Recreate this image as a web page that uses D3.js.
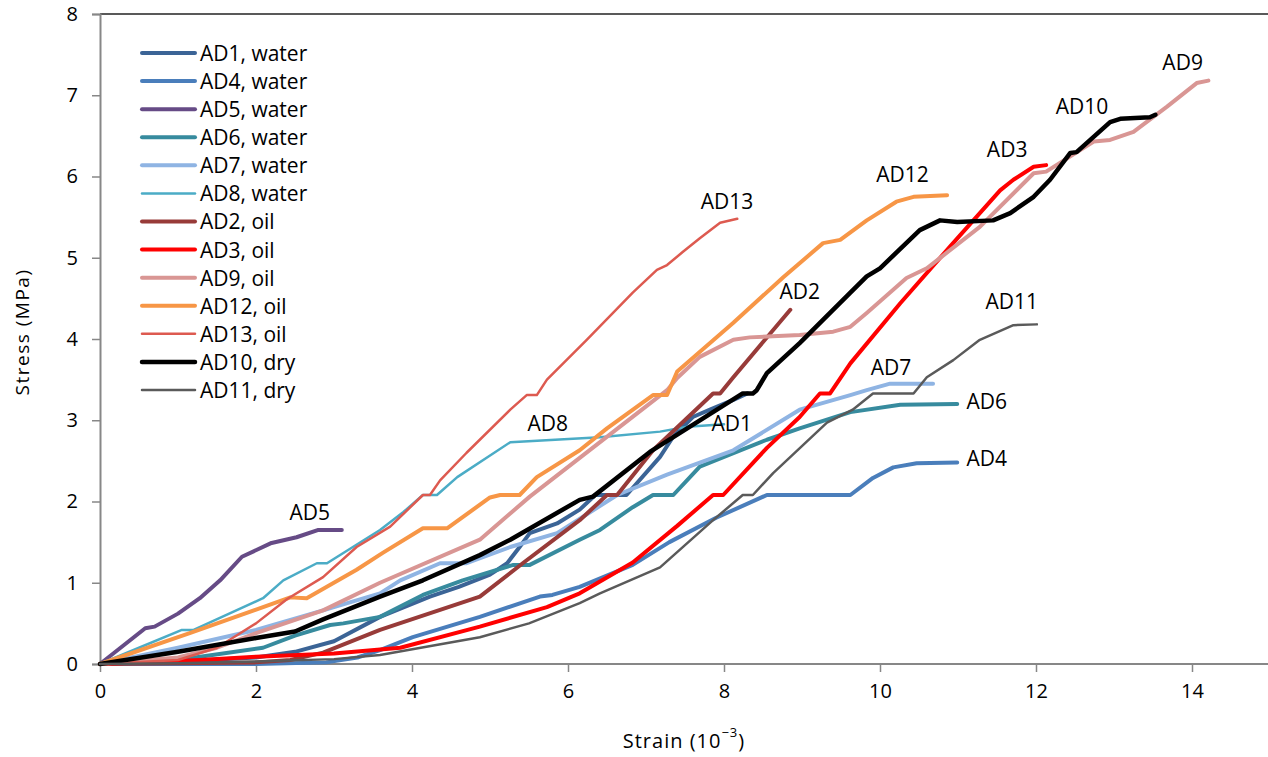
<!DOCTYPE html>
<html>
<head>
<meta charset="utf-8">
<script src="https://cdn.jsdelivr.net/npm/d3@7"></script>
<style>
  body { margin: 0; background: #fff; }
  svg text { font-family: "Open Sans", "Liberation Sans", sans-serif; fill: #000; }
</style>
</head>
<body>
<svg id="chart" width="1268" height="757"></svg>
<script>
// stress-strain readings, [strain (10^-3), stress (MPa)]
var ad1 = [[0,0],[1,0.03],[2,0.08],[2.5,0.15],[3,0.28],[3.59,0.58],[4.23,0.83],[4.6,0.95],[5.0,1.1],[5.22,1.24],[5.38,1.44],[5.51,1.61],[5.86,1.73],[6.15,1.9],[6.35,2.08],[6.75,2.08],[7.18,2.55],[7.35,2.8],[7.6,3.04],[7.82,3.13],[8.12,3.25],[8.3,3.33]]
var ad4 = [[0,0],[1,0],[2,0],[2.9,0.02],[3.3,0.08],[3.59,0.17],[4.01,0.33],[4.87,0.58],[5.64,0.83],[5.8,0.85],[6.15,0.95],[6.83,1.22],[7.3,1.5],[7.9,1.8],[8.55,2.08],[9.62,2.08],[9.91,2.29],[10.17,2.42],[10.47,2.47],[10.99,2.48]]
var ad5 = [[0,0],[0.58,0.44],[0.7,0.46],[1.0,0.62],[1.28,0.81],[1.54,1.03],[1.82,1.32],[2.2,1.49],[2.52,1.56],[2.8,1.65],[3.1,1.65]]
var ad6 = [[0,0],[1.15,0.07],[2.09,0.2],[2.5,0.35],[2.95,0.48],[3.12,0.5],[3.59,0.58],[4.14,0.85],[4.65,1.03],[5.3,1.22],[5.51,1.22],[6.15,1.53],[6.41,1.65],[6.83,1.93],[7.09,2.08],[7.35,2.08],[7.69,2.43],[8.55,2.76],[8.97,2.9],[9.62,3.1],[10.26,3.19],[10.99,3.2]]
var ad7 = [[0,0],[1,0.2],[2,0.42],[2.86,0.66],[3.59,0.87],[3.85,1.03],[4.36,1.24],[4.7,1.24],[5.26,1.44],[5.86,1.61],[6.63,2.08],[7.27,2.33],[8.12,2.63],[8.97,3.13],[9.62,3.31],[9.83,3.37],[10.13,3.45],[10.68,3.45]]
var ad8 = [[0,0],[0.5,0.2],[1.05,0.42],[1.2,0.42],[2.09,0.81],[2.35,1.03],[2.78,1.24],[2.91,1.24],[3.59,1.65],[3.89,1.87],[4.14,2.08],[4.32,2.08],[4.58,2.3],[5.26,2.73],[6.41,2.79],[7.18,2.86],[7.53,2.92],[8.0,2.95]]
var ad2 = [[0,0],[1,0.01],[2,0.02],[2.44,0.05],[2.86,0.14],[3.59,0.42],[4.87,0.83],[5.42,1.24],[6.15,1.77],[6.5,2.08],[6.63,2.08],[7.09,2.63],[7.86,3.33],[7.95,3.33],[8.12,3.53],[8.85,4.36]]
var ad3 = [[0,0],[1.28,0.05],[2,0.09],[3,0.13],[3.85,0.2],[4.87,0.46],[5.73,0.7],[6.15,0.87],[6.83,1.25],[7.4,1.7],[7.86,2.08],[7.99,2.08],[8.55,2.66],[8.97,3.04],[9.23,3.33],[9.36,3.33],[9.62,3.7],[10.26,4.44],[10.9,5.14],[11.54,5.83],[11.71,5.96],[11.97,6.12],[12.13,6.14]]
var ad9 = [[0,0],[1,0.08],[1.5,0.2],[2,0.38],[2.86,0.66],[3.59,1.0],[4.87,1.53],[5.51,2.06],[7.27,3.37],[7.4,3.52],[7.69,3.78],[8.12,3.99],[8.33,4.02],[8.97,4.05],[9.4,4.09],[9.62,4.15],[9.83,4.32],[10.34,4.75],[10.6,4.87],[11.28,5.38],[11.97,6.04],[12.13,6.06],[12.74,6.43],[12.95,6.45],[13.25,6.55],[13.68,6.86],[14.06,7.15],[14.21,7.18]]
var ad12 = [[0,0],[1.15,0.38],[2.44,0.82],[2.65,0.81],[3.29,1.16],[3.63,1.37],[4.14,1.67],[4.45,1.67],[5.0,2.05],[5.13,2.08],[5.38,2.08],[5.6,2.3],[6.15,2.63],[6.5,2.9],[7.09,3.31],[7.27,3.31],[7.4,3.6],[8.12,4.2],[8.76,4.76],[9.27,5.18],[9.49,5.22],[9.83,5.46],[10.21,5.69],[10.43,5.75],[10.86,5.77]]
var ad13 = [[0,0],[1,0.05],[1.5,0.2],[2,0.5],[2.4,0.8],[2.86,1.07],[3.29,1.44],[3.72,1.69],[4.14,2.08],[4.23,2.08],[4.36,2.26],[4.7,2.6],[5.26,3.13],[5.47,3.31],[5.6,3.31],[5.73,3.5],[6.24,3.99],[6.83,4.57],[7.14,4.85],[7.27,4.91],[7.47,5.07],[7.69,5.24],[7.95,5.43],[8.17,5.48]]
var ad10 = [[0,0],[1,0.15],[2,0.32],[2.5,0.4],[2.86,0.55],[3.59,0.83],[4.14,1.03],[4.87,1.34],[5.26,1.53],[5.55,1.69],[6.15,2.02],[6.32,2.06],[7.05,2.61],[8.24,3.33],[8.37,3.33],[8.42,3.37],[8.55,3.58],[8.97,3.95],[9.62,4.57],[9.83,4.77],[10.0,4.87],[10.51,5.34],[10.77,5.46],[10.99,5.44],[11.45,5.46],[11.67,5.55],[11.97,5.75],[12.18,5.96],[12.44,6.29],[12.52,6.3],[12.95,6.67],[13.08,6.71],[13.46,6.73],[13.53,6.76]]
var ad11 = [[0,0],[1,0.01],[2,0.03],[3,0.06],[3.59,0.11],[4.87,0.33],[5.5,0.5],[6.15,0.75],[6.41,0.87],[7.18,1.19],[7.86,1.77],[8.24,2.08],[8.37,2.08],[8.63,2.35],[9.32,2.97],[9.65,3.13],[9.91,3.33],[10.43,3.33],[10.6,3.53],[10.94,3.74],[11.28,3.99],[11.71,4.17],[12.01,4.18]]

var names = ['AD1, water', 'AD4, water', 'AD5, water', 'AD6, water', 'AD7, water', 'AD8, water',
  'AD2, oil', 'AD3, oil', 'AD9, oil', 'AD12, oil', 'AD13, oil', 'AD10, dry', 'AD11, dry']
var tags = ['AD1', 'AD4', 'AD5', 'AD6', 'AD7', 'AD8', 'AD2', 'AD3', 'AD9', 'AD12', 'AD13', 'AD10', 'AD11']
var values = [ad1, ad4, ad5, ad6, ad7, ad8, ad2, ad3, ad9, ad12, ad13, ad10, ad11]
// where each tag sits, in data units
var tagAt = [[8.1,2.97],[11.37,2.54],[2.69,1.87],[11.37,3.24],[10.14,3.66],[5.74,2.97],
  [8.97,4.59],[11.63,6.34],[13.88,7.41],[10.29,6.03],[8.04,5.70],[12.59,6.87],[11.69,4.47]]
var xTicks = [0, 2, 4, 6, 8, 10, 12, 14]
var yTicks = [0, 1, 2, 3, 4, 5, 6, 7, 8]

var colors = ['#3b6496', '#4a7ebb', '#664b86', '#378b9e', '#8fb4e3', '#4bacc6',
  '#983b39', '#ff0000', '#d99694', '#f79646', '#dd5a50', '#000000', '#5a5a5a']
var widths = [4, 4, 4, 4, 4, 2.5, 4, 4, 4, 4, 2.5, 4.5, 2.5]

var svg = d3.select('#chart')

var x = d3.scaleLinear().domain([0, 15]).range([100, 1270])
var y = d3.scaleLinear().domain([0, 8]).range([664, 14])

// frame: top edge dark, axes grey
svg.append('line')
  .attr('x1', 100).attr('x2', 1268)
  .attr('y1', y(8)).attr('y2', y(8))
  .style('stroke', '#222').style('stroke-width', 1.5)

var xAxis = svg.append('g')
  .attr('transform', 'translate(0,' + y(0) + ')')
  .call(d3.axisBottom(x).tickValues(xTicks).tickSize(8).tickPadding(12))
var yAxis = svg.append('g')
  .attr('transform', 'translate(' + x(0) + ',0)')
  .call(d3.axisLeft(y).tickValues(yTicks).tickSize(8).tickPadding(14))

xAxis.select('.domain').attr('d', 'M100,0H1268')
;[xAxis, yAxis].forEach(function (a) {
  a.select('.domain').style('stroke', '#878787').style('stroke-width', 2)
  a.selectAll('.tick line').style('stroke', '#878787').style('stroke-width', 1.5)
  a.selectAll('.tick text').style('font-size', '20px').style('font-family', '"Open Sans", sans-serif').style('fill', '#000')
})

var line = d3.line()
  .x(function (d) { return x(d[0]) })
  .y(function (d) { return y(d[1]) })

// draw in legend order, so the later ones sit on top
svg.append('g').selectAll('path')
  .data(values)
  .enter().append('path')
  .attr('d', line)
  .style('fill', 'none')
  .style('stroke', function (d, i) { return colors[i] })
  .style('stroke-width', function (d, i) { return widths[i] })
  .style('stroke-linejoin', 'round')
  .style('stroke-linecap', 'round')

svg.append('g').selectAll('text')
  .data(tagAt)
  .enter().append('text')
  .attr('x', function (d) { return x(d[0]) })
  .attr('y', function (d) { return y(d[1]) })
  .attr('text-anchor', 'middle')
  .attr('dominant-baseline', 'central')
  .style('font-size', '21px')
  .text(function (d, i) { return tags[i] })

var legend = svg.append('g')
var rows = legend.selectAll('g')
  .data(names)
  .enter().append('g')
  .attr('transform', function (d, i) { return 'translate(142,' + (53 + i * 28.08) + ')' })
rows.append('line')
  .attr('x1', 0).attr('x2', 53)
  .style('stroke', function (d, i) { return colors[i] })
  .style('stroke-width', function (d, i) { return widths[i] })
  .style('stroke-linecap', 'round')
rows.append('text')
  .attr('x', 58)
  .attr('dominant-baseline', 'central')
  .style('font-size', '21px')
  .text(function (d) { return d })

svg.append('text')
  .attr('transform', 'translate(22,332) rotate(-90)')
  .attr('text-anchor', 'middle')
  .attr('dominant-baseline', 'central')
  .style('font-size', '19px')
  .style('letter-spacing', '1.5px')
  .text('Stress (MPa)')

var xt = svg.append('text')
  .attr('x', 684).attr('y', 740)
  .attr('text-anchor', 'middle')
  .attr('dominant-baseline', 'central')
  .style('font-size', '20px')
  .style('letter-spacing', '1px')
xt.append('tspan').text('Strain (10')
xt.append('tspan').attr('dy', -8).style('font-size', '13px').text('\u22123')
xt.append('tspan').attr('dy', 8).text(')')
</script>
</body>
</html>
